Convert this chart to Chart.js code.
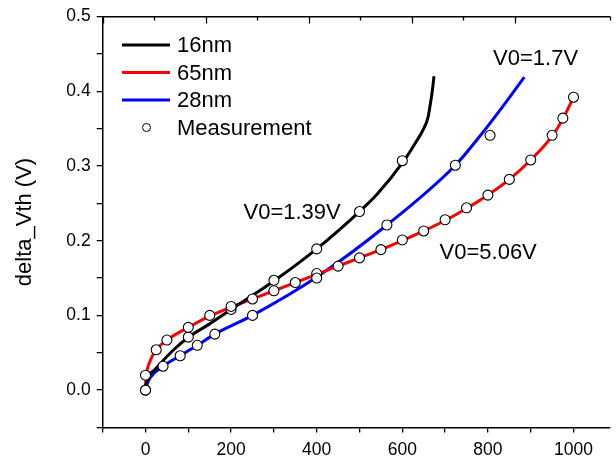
<!DOCTYPE html>
<html>
<head>
<meta charset="utf-8">
<script src="https://cdn.jsdelivr.net/npm/chart.js@4.4.0/dist/chart.umd.min.js"></script>
<style>
  html, body { margin: 0; padding: 0; background: #fff; overflow: hidden; }
</style>
</head>
<body>
<canvas id="chart" width="616" height="462"></canvas>
<script>
// fitted curves
const black16X = [0, 5, 21, 64, 101, 148, 200, 300, 400, 500, 541, 604, 633, 650, 660, 666, 670, 674];
const black16Y = [0.005, 0.017, 0.027, 0.053, 0.071, 0.088, 0.108, 0.146, 0.189, 0.239, 0.262, 0.307, 0.333, 0.350, 0.365, 0.385, 0.400, 0.420];

const red65X = [0, 2, 10, 25, 50, 100, 150, 200, 250, 300, 350, 400, 450, 500, 550, 600, 650, 700, 750, 800, 850, 900, 950, 975, 1000];
const red65Y = [0.005, 0.020, 0.038, 0.054, 0.067, 0.084, 0.099, 0.111, 0.122, 0.133, 0.144, 0.155, 0.166, 0.177, 0.188, 0.200, 0.213, 0.227, 0.243, 0.261, 0.282, 0.308, 0.340, 0.363, 0.392];

const blue28X = [0, 10, 41, 81, 121, 162, 250, 402, 564, 724, 780, 830, 885];
const blue28Y = [0.003, 0.016, 0.032, 0.046, 0.060, 0.075, 0.100, 0.152, 0.221, 0.301, 0.339, 0.376, 0.419];

// measured points (all three nodes)
const measX = [0, 100, 200, 300, 400, 500, 600,
  0, 25, 50, 100, 150, 200, 250, 300, 350, 400, 450, 500, 550, 600, 650, 700, 750, 800, 850, 900, 950, 975, 1000,
  0, 41, 81, 121, 162, 250, 400, 564, 724, 805];
const measY = [0, 0.071, 0.108, 0.147, 0.189, 0.239, 0.307,
  0.020, 0.054, 0.067, 0.084, 0.100, 0.112, 0.122, 0.133, 0.144, 0.156, 0.166, 0.177, 0.188, 0.201, 0.213, 0.228, 0.244, 0.261, 0.282, 0.308, 0.341, 0.364, 0.392,
  0, 0.032, 0.046, 0.060, 0.075, 0.100, 0.150, 0.221, 0.301, 0.341];

const seriesNames = ['16nm', '65nm', '28nm', 'Measurement'];
const seriesColors = ['#000000', '#ff0000', '#0000ff', '#000000'];

const noteText = ['V0=1.39V', 'V0=1.7V', 'V0=5.06V'];
const noteX = [229, 812, 687];
const noteY = [0.2377, 0.443, 0.184];

const FONT = "'Liberation Sans', Arial, sans-serif";

function pts(xs, ys) {
  return xs.map((x, i) => ({ x: x, y: ys[i] }));
}

function lineSet(i, xs, ys) {
  return {
    type: 'line',
    label: seriesNames[i],
    data: pts(xs, ys),
    borderColor: seriesColors[i],
    borderWidth: 3,
    pointRadius: 0,
    fill: false,
    cubicInterpolationMode: 'monotone',
    order: 1
  };
}

// inward ticks on the top frame, legend and V0 notes
const extras = {
  id: 'extras',
  afterDraw(chart) {
    const ctx = chart.ctx;
    const top = chart.scales.x2;
    ctx.save();
    ctx.strokeStyle = '#000';
    ctx.lineWidth = 1.3;
    top.ticks.forEach(t => {
      const px = Math.round(top.getPixelForValue(t.value)) + 0.5;
      const len = t.value % 100 === 0 ? 7 : 4;
      ctx.beginPath();
      ctx.moveTo(px, top.bottom);
      ctx.lineTo(px, top.bottom + len);
      ctx.stroke();
    });

    ctx.font = '22px ' + FONT;
    ctx.textBaseline = 'middle';
    ctx.textAlign = 'left';
    ctx.fillStyle = '#000';
    for (let i = 0; i < 3; i++) {
      const y = 45 + i * 27.5;
      ctx.strokeStyle = seriesColors[i];
      ctx.lineWidth = 3;
      ctx.beginPath();
      ctx.moveTo(122, y);
      ctx.lineTo(170, y);
      ctx.stroke();
      ctx.fillText(seriesNames[i], 177, y + 1);
    }
    ctx.beginPath();
    ctx.arc(146.5, 127.5, 4, 0, Math.PI * 2);
    ctx.fillStyle = '#fff';
    ctx.fill();
    ctx.strokeStyle = '#000';
    ctx.lineWidth = 1;
    ctx.stroke();
    ctx.fillStyle = '#000';
    ctx.fillText(seriesNames[3], 177, 128.5);

    const xs = chart.scales.x, ys = chart.scales.y;
    noteText.forEach((s, i) => {
      ctx.fillText(s, xs.getPixelForValue(noteX[i]), ys.getPixelForValue(noteY[i]));
    });
    ctx.restore();
  }
};

new Chart(document.getElementById('chart'), {
  data: {
    datasets: [
      {
        type: 'scatter',
        label: seriesNames[3],
        data: pts(measX, measY),
        pointRadius: 5,
        pointHoverRadius: 5,
        pointBackgroundColor: '#ffffff',
        pointBorderColor: '#000000',
        pointBorderWidth: 1.1,
        order: 0
      },
      lineSet(0, black16X, black16Y),
      lineSet(1, red65X, red65Y),
      lineSet(2, blue28X, blue28Y)
    ]
  },
  options: {
    responsive: false,
    animation: false,
    events: [],
    layout: { padding: 0 },
    plugins: { legend: { display: false }, tooltip: { enabled: false } },
    scales: {
      x: {
        type: 'linear',
        position: 'bottom',
        min: -100,
        max: 1085,
        afterFit: s => { s.height = 34.5; },
        ticks: {
          stepSize: 100,
          includeBounds: false,
          autoSkip: false,
          maxRotation: 0,
          padding: 7,
          color: '#000',
          font: { family: FONT, size: 17.5 },
          callback: v => (v % 200 === 0 ? String(v) : '')
        },
        grid: { drawOnChartArea: false, tickLength: 5, color: '#000', lineWidth: 1.3 },
        border: { color: '#000', width: 1.5 }
      },
      x2: {
        type: 'linear',
        position: 'top',
        min: 0,
        max: 492.6,
        afterFit: s => { s.height = 14; },
        ticks: { display: false, stepSize: 50 },
        grid: { drawOnChartArea: false, drawTicks: false },
        border: { color: '#000', width: 1.5 }
      },
      y: {
        type: 'linear',
        min: -0.05,
        max: 0.5,
        afterFit: s => { s.width = 102.7; },
        ticks: {
          stepSize: 0.05,
          padding: 6,
          color: '#000',
          font: { family: FONT, size: 17.5 },
          callback: v => (Math.round(v * 100) % 10 === 0 ? v.toFixed(1) : '')
        },
        grid: { drawOnChartArea: false, tickLength: 6, color: '#000', lineWidth: 1.3 },
        border: { color: '#000', width: 1.5 },
        title: {
          display: true,
          text: 'delta_Vth (V)',
          color: '#000',
          font: { family: FONT, size: 22 },
          padding: { top: 12, bottom: 0 }
        }
      }
    }
  },
  plugins: [extras]
});
</script>
</body>
</html>
